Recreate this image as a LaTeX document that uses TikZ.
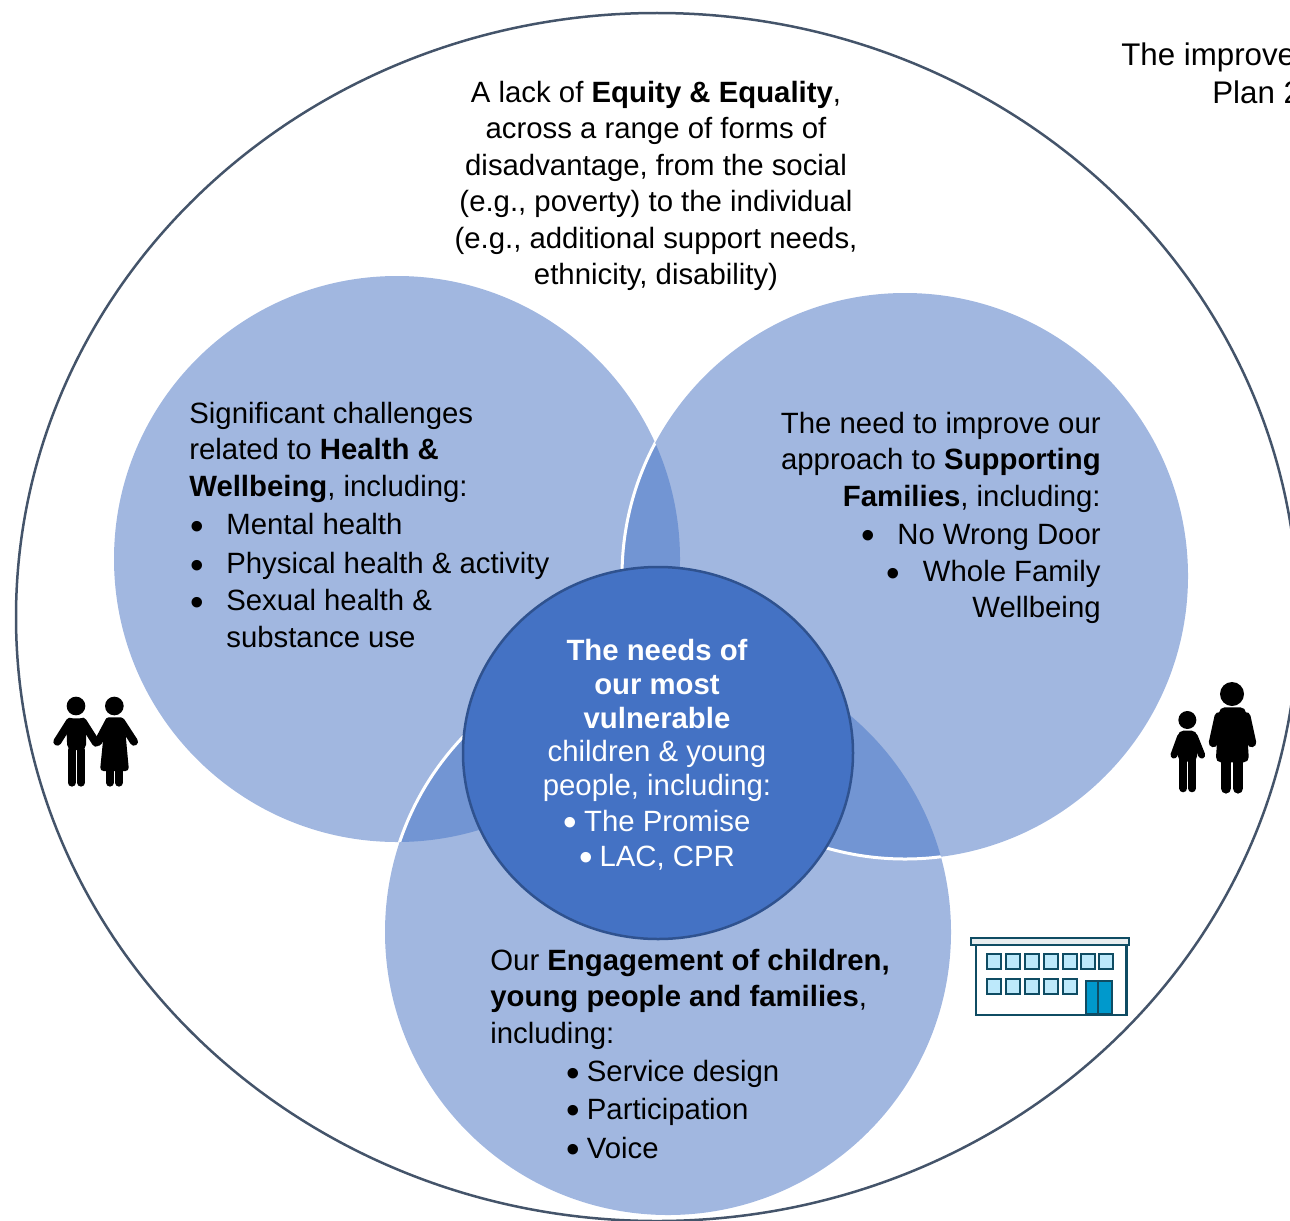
\documentclass[tikz,border=0pt]{standalone}
\usepackage{fontspec}
\setmainfont{Liberation Sans}
\definecolor{vennfill}{HTML}{A1B7E0}
\definecolor{vennover}{HTML}{7295D3}
\definecolor{corefill}{HTML}{4472C4}
\definecolor{coreline}{HTML}{2F528F}
\definecolor{outerline}{HTML}{44546A}
\definecolor{bldline}{HTML}{0F4C63}
\definecolor{bldglass}{HTML}{BDE9FB}
\definecolor{blddoor}{HTML}{0099CC}
\tikzset{
	bodytext/.style={inner sep=0pt,font=\fontsize{16.7}{20.7}\selectfont},
	cuttext/.style={inner sep=0pt,anchor=base west,font=\fontsize{17.8}{20.7}\selectfont},
	coretext/.style={inner sep=0pt,text=white,align=center,font=\fontsize{16.7}{19.2}\selectfont},
	limb/.style={line cap=round,black},
	whiteedge/.style={draw=white,line width=0.06cm}
}
\newcommand*{\bigdot}{\raisebox{-2.5pt}{\fontsize{22}{22}\selectfont •}}
\newcommand*{\bul}[1]{\makebox[0.72cm][l]{\bigdot}#1}
\newcommand*{\tightbul}[1]{\bigdot\kern0.14cm #1}
\newcommand*{\leftdisc}{(397,559) circle (283)}
\newcommand*{\rightdisc}{(905,576) circle (283)}
\newcommand*{\lowdisc}{(668,932) circle (283)}

\begin{document}
\begin{tikzpicture}[x=0.02cm,y=-0.02cm]
	\useasboundingbox (0,0) rectangle (1290,1220);
	\begin{scope}
		\clip (0,0) rectangle (1290,1220);
		\draw[outerline,line width=0.05cm] (657,617) ellipse [x radius=641,y radius=604];
		\node[cuttext] (improve) at (1121,66) {The improve};
		\node[cuttext] (plan) at (1212,104) {Plan 2};
	\end{scope}
	\fill[vennfill] \leftdisc;
	\fill[vennfill] \rightdisc;
	\fill[vennfill] \lowdisc;
	\begin{scope}
		\clip \leftdisc;
		\fill[vennover] \rightdisc;
		\fill[vennover] \lowdisc;
		\draw[whiteedge] \rightdisc;
		\draw[whiteedge] \lowdisc;
	\end{scope}
	\begin{scope}
		\clip \lowdisc;
		\fill[vennover] \rightdisc;
		\draw[whiteedge] \rightdisc;
	\end{scope}
	\draw[coreline,fill=corefill,line width=0.05cm] (658,753) ellipse [x radius=195,y radius=186];
	% texts
	\node[bodytext,align=center,anchor=north] (equity) at (656,81) {A lack of \textbf{Equity \& Equality},\\across a range of forms of\\disadvantage, from the social\\(e.g., poverty) to the individual\\(e.g., additional support needs,\\ethnicity, disability)};
	\node[bodytext,align=left,anchor=north west] (health) at (189,402) {Significant challenges\\related to \textbf{Health \&}\\\textbf{Wellbeing}, including:};
	\node[bodytext,align=left,anchor=north west] (healthlist) at (190,513) {\bul{Mental health}\\[1.6pt]\bul{Physical health \& activity}\\[0.4pt]\bul{Sexual health \&}\\\hspace{0.72cm}substance use};
	\node[bodytext,align=right,anchor=north east] (families) at (1101,412) {The need to improve our\\approach to \textbf{Supporting}\\\textbf{Families}, including:};
	\node[bodytext,align=right,anchor=north east] (familylist) at (1101,524) {\bul{No Wrong Door}\\[0.4pt]\bul{Whole Family}\\Wellbeing};
	\node[bodytext,align=left,anchor=north west] (engage) at (490,949) {Our \textbf{Engagement of children,}\\\textbf{young people and families},\\including:};
	\node[bodytext,align=left,anchor=north west] (engagelist) at (566,1060) {\tightbul{Service design}\\[0.8pt]\tightbul{Participation}\\[1.4pt]\tightbul{Voice}};
	\node[coretext,anchor=north] (core) at (657,639) {\textbf{The needs of}\\\textbf{our most}\\\textbf{vulnerable}\\children \& young\\people, including:\\[1pt]\tightbul{The Promise}\\[1pt]\tightbul{LAC, CPR}};
	% couple
	\begin{scope}[shift={(30,670)},scale=1/3]
		\fill (138,108) circle (28);
		\fill (253,108) circle (28);
		\fill[rounded corners=3pt] (108,145) -- (168,145) -- (168,240) -- (112,240) -- cycle;
		\draw[limb,line width=4.5pt] (125,240) -- (125,338);
		\draw[limb,line width=4.5pt] (153,240) -- (153,338);
		\draw[limb,line width=4.6pt] (120,155) -- (82,215);
		\draw[limb,line width=4.6pt] (158,155) -- (198,218);
		\fill[rounded corners=2pt] (226,142) -- (282,142) -- (297,303) -- (210,303) -- cycle;
		\draw[limb,line width=4.5pt] (240,300) -- (240,338);
		\draw[limb,line width=4.5pt] (267,300) -- (267,338);
		\draw[limb,line width=4.6pt] (237,155) -- (205,215);
		\draw[limb,line width=4.6pt] (273,155) -- (312,215);
	\end{scope}
	% parent and child
	\begin{scope}[shift={(1150,670)},scale=1/3]
		\fill (112,150) circle (27);
		\fill (246,72) circle (36);
		\fill[rounded corners=3pt] (84,182) -- (141,182) -- (141,275) -- (84,275) -- cycle;
		\draw[limb,line width=4pt] (92,200) -- (72,255);
		\draw[limb,line width=4pt] (133,200) -- (155,255);
		\draw[limb,line width=4.5pt] (100,270) -- (100,355);
		\draw[limb,line width=4.5pt] (126,270) -- (126,355);
		\fill[rounded corners=3pt] (208,112) -- (287,112) -- (297,277) -- (197,277) -- cycle;
		\draw[limb,line width=5.2pt] (207,140) -- (190,218);
		\draw[limb,line width=5.2pt] (288,140) -- (305,218);
		\draw[limb,line width=6pt] (228,275) -- (228,355);
		\draw[limb,line width=6pt] (264,275) -- (264,355);
	\end{scope}
	% school
	\begin{scope}[shift={(960,925)},scale=1/3]
		\draw[bldline,fill=white,line width=1.5pt] (48,60) rectangle (500,270);
		\draw[bldline,fill=white!90!bldline,line width=1.1pt] (33,40) rectangle (507,60);
		\foreach \x in {82,137,195,252,308,362,418}
			\draw[bldline,fill=bldglass,line width=1.2pt] (\x,88) rectangle ++(42,44);
		\foreach \x in {82,137,195,252,308}
			\draw[bldline,fill=bldglass,line width=1.2pt] (\x,163) rectangle ++(42,45);
		\draw[bldline,fill=blddoor,line width=1.1pt] (377,168) rectangle (455,268);
		\draw[bldline,line width=1.1pt] (415,168) -- (415,268);
	\end{scope}
\end{tikzpicture}
\end{document}
